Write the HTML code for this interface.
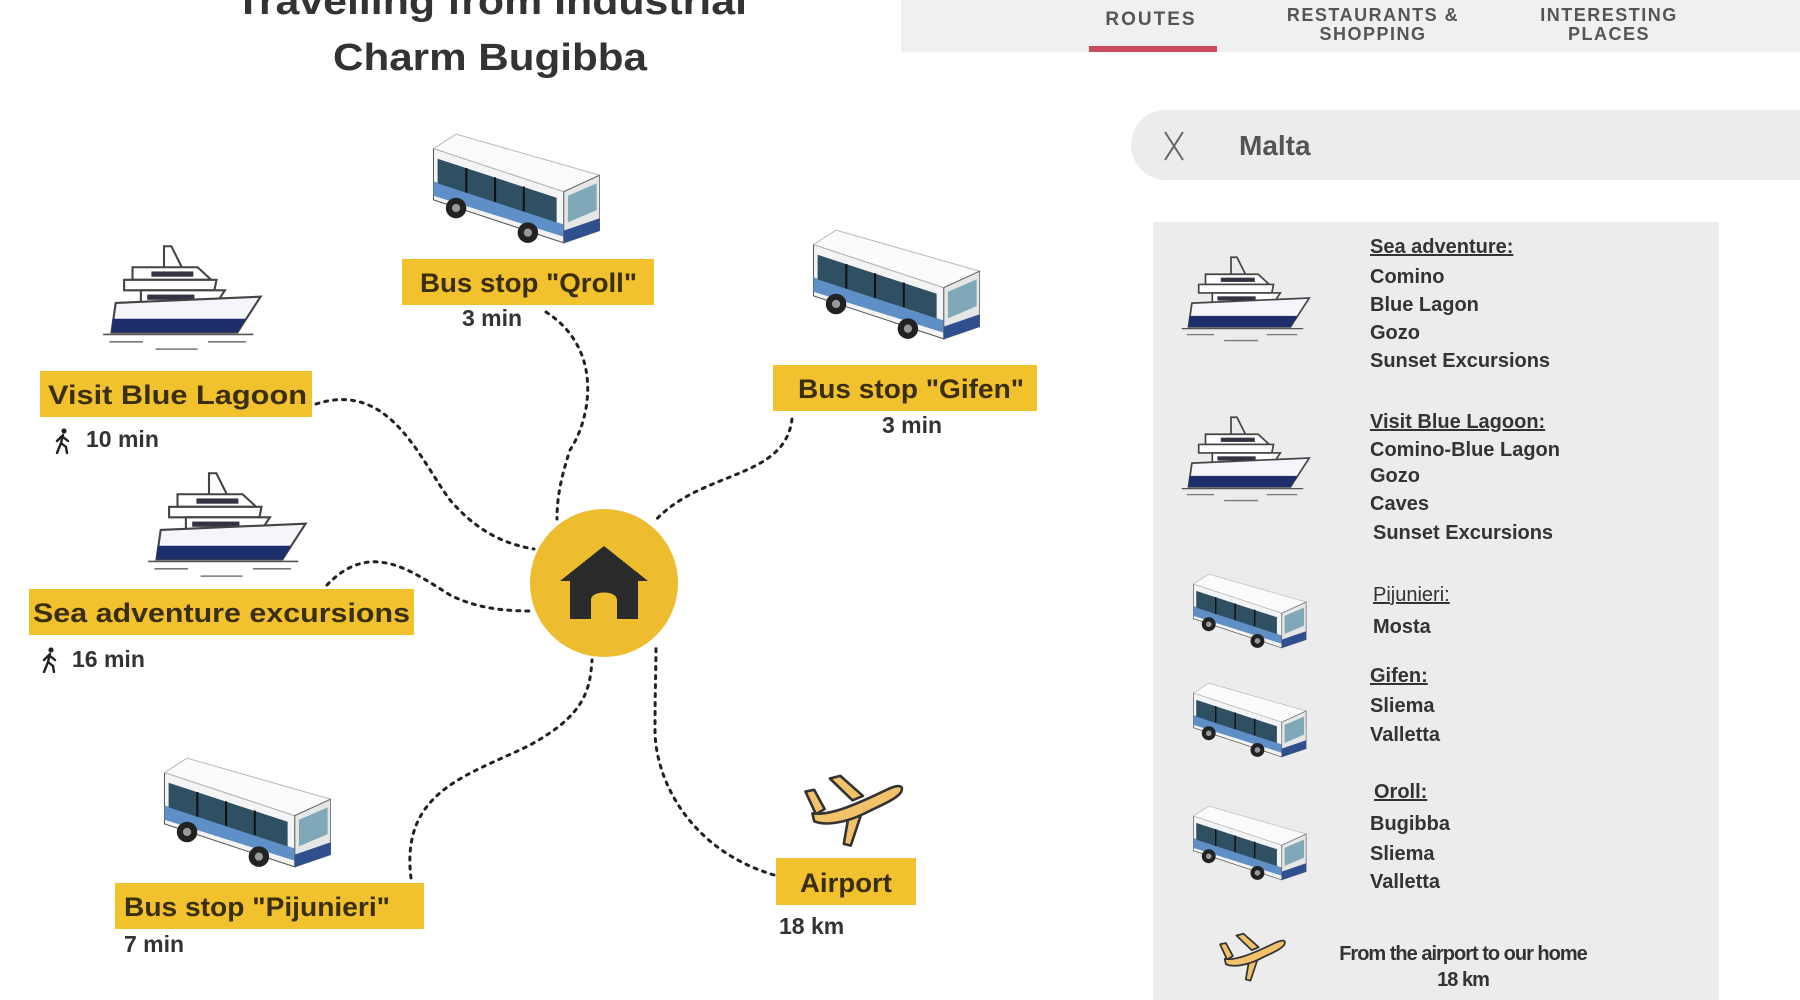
<!DOCTYPE html>
<html><head><meta charset="utf-8"><style>
html,body{margin:0;padding:0;background:#fff;width:1800px;height:1000px;overflow:hidden}
svg{display:block}
text{font-family:"Liberation Sans",sans-serif}
</style></head><body>
<svg width="1800" height="1000" viewBox="0 0 1800 1000" xmlns="http://www.w3.org/2000/svg">
<defs>
<symbol id="bus" viewBox="0 0 170 115">
 <polygon points="8,20 135,62 135,112 8,70" fill="#f4f4f4" stroke="#555" stroke-width="1"/>
 <polygon points="8,52 135,94 135,106 8,66" fill="#5e8fc6"/>
 <polygon points="12,30 128,68 128,92 12,54" fill="#2f4f63"/>
 <line x1="40" y1="39" x2="40" y2="63" stroke="#111" stroke-width="2"/>
 <line x1="68" y1="48" x2="68" y2="72" stroke="#111" stroke-width="2"/>
 <line x1="96" y1="57" x2="96" y2="81" stroke="#111" stroke-width="2"/>
 <polygon points="8,20 30,6 170,46 135,62" fill="#fbfbfb" stroke="#bbb" stroke-width="1"/>
 <polygon points="135,62 170,46 170,100 135,112" fill="#e6e6e6" stroke="#666" stroke-width="1"/>
 <polygon points="139,66 167,54 167,80 139,92" fill="#7fa8b8"/>
 <polygon points="135,100 170,88 170,100 135,112" fill="#2f4f8f"/>
 <circle cx="30" cy="78" r="10" fill="#222"/><circle cx="30" cy="78" r="4" fill="#999"/>
 <circle cx="100" cy="102" r="10" fill="#222"/><circle cx="100" cy="102" r="4" fill="#999"/>
</symbol>
<symbol id="ship" viewBox="0 0 200 130">
 <polyline points="80,52 80,20 87,20 97,40" fill="none" stroke="#444" stroke-width="2"/>
 <polygon points="50,40 112,40 125,52 50,52" fill="#fff" stroke="#444" stroke-width="2"/>
 <rect x="68" y="44" width="40" height="5" fill="#334" />
 <polygon points="42,52 130,52 128,62 42,62" fill="#fff" stroke="#444" stroke-width="2"/>
 <polygon points="58,62 138,62 130,74 58,74" fill="#fff" stroke="#444" stroke-width="2"/>
 <rect x="64" y="66" width="45" height="5" fill="#334"/>
 <polygon points="34,74 172,68 150,102 30,102" fill="#f4f6fb" stroke="#444" stroke-width="2"/>
 <polygon points="31,89 158,89 150,102 30,102" fill="#1d2f6a"/>
 <line x1="22" y1="104" x2="165" y2="104" stroke="#555" stroke-width="1.5"/>
 <line x1="28" y1="111" x2="60" y2="111" stroke="#777" stroke-width="1.5"/>
 <line x1="122" y1="111" x2="158" y2="111" stroke="#777" stroke-width="1.5"/>
 <line x1="72" y1="118" x2="112" y2="118" stroke="#777" stroke-width="1.5"/>
</symbol>
<symbol id="plane" viewBox="0 0 140 100">
 <g fill="#f2c26b" stroke="#333" stroke-width="3" stroke-linejoin="round">
  <polygon points="40,15 52,12 78,35 66,40"/>
  <polygon points="62,55 78,50 64,92 56,90"/>
  <polygon points="12,30 22,28 34,50 24,56"/>
  <path d="M20,55 C40,58 70,45 105,28 C118,22 125,22 122,30 C118,38 100,45 80,55 C60,65 35,70 22,64 Z"/>
 </g>
</symbol>
<symbol id="walk" viewBox="0 0 20 26">
 <circle cx="11" cy="3" r="2.6" fill="#222"/>
 <path d="M10,7 L8,15 L4,25 M8,15 L13,19 L14,25 M9,8 L4,13 M10,9 L15,13" stroke="#222" stroke-width="2.4" fill="none" stroke-linecap="round"/>
</symbol>
</defs>

<text x="491" y="14" text-anchor="middle" font-size="38" font-weight="bold" fill="#333" textLength="512" lengthAdjust="spacingAndGlyphs">Travelling from Industrial</text>
<text x="490" y="70" text-anchor="middle" font-size="38" font-weight="bold" fill="#333" textLength="314" lengthAdjust="spacingAndGlyphs">Charm Bugibba</text>

<rect x="901" y="0" width="899" height="52" fill="#f0f0f0"/>
<rect x="1089" y="46" width="128" height="6" fill="#cc4a5e"/>
<g font-weight="bold" fill="#555">
<text x="1151" y="25" text-anchor="middle" font-size="19" letter-spacing="2">ROUTES</text>
<text x="1373" y="21" text-anchor="middle" font-size="18" letter-spacing="1.5">RESTAURANTS &amp;</text>
<text x="1373" y="40" text-anchor="middle" font-size="18" letter-spacing="1.5">SHOPPING</text>
<text x="1609" y="21" text-anchor="middle" font-size="18" letter-spacing="1.5">INTERESTING</text>
<text x="1609" y="40" text-anchor="middle" font-size="18" letter-spacing="1.5">PLACES</text>
</g>

<rect x="1131" y="110" width="720" height="70" rx="35" fill="#ececec"/>
<path d="M1165,132 L1183,160 M1183,132 L1165,160" stroke="#666" stroke-width="2"/>
<text x="1239" y="155" font-size="28" font-weight="bold" fill="#555">Malta</text>

<rect x="1153" y="222" width="566" height="778" fill="#ececec"/>
<use href="#ship" x="1163" y="240" width="170" height="111"/>
<use href="#ship" x="1163" y="400" width="170" height="111"/>
<use href="#bus" x="1185" y="570" width="124" height="80"/>
<use href="#bus" x="1185" y="679" width="124" height="80"/>
<use href="#bus" x="1185" y="802" width="124" height="80"/>
<use href="#plane" x="1213" y="925" width="82" height="62"/>
<g font-size="20" fill="#333" font-weight="bold">
<text x="1370" y="253" text-decoration="underline">Sea adventure:</text>
<text x="1370" y="283">Comino</text>
<text x="1370" y="311">Blue Lagon</text>
<text x="1370" y="339">Gozo</text>
<text x="1370" y="367">Sunset Excursions</text>
<text x="1370" y="428" text-decoration="underline">Visit Blue Lagoon:</text>
<text x="1370" y="456">Comino-Blue Lagon</text>
<text x="1370" y="482">Gozo</text>
<text x="1370" y="510">Caves</text>
<text x="1373" y="539">Sunset Excursions</text>
<text x="1373" y="601" text-decoration="underline" font-family="Liberation Serif" font-weight="normal">Pijunieri:</text>
<text x="1373" y="633">Mosta</text>
<text x="1370" y="682" text-decoration="underline">Gifen:</text>
<text x="1370" y="712">Sliema</text>
<text x="1370" y="741">Valletta</text>
<text x="1374" y="798" text-decoration="underline">Oroll:</text>
<text x="1370" y="830">Bugibba</text>
<text x="1370" y="860">Sliema</text>
<text x="1370" y="888">Valletta</text>
<text x="1463" y="960" text-anchor="middle" letter-spacing="-1">From the airport to our home</text>
<text x="1463" y="986" text-anchor="middle" letter-spacing="-1">18 km</text>
</g>

<g fill="none" stroke="#222" stroke-width="3" stroke-dasharray="3 6" stroke-linecap="round">
<path d="M316,404 C390,380 420,460 450,500 C480,535 510,545 534,549"/>
<path d="M546,312 C605,350 590,420 570,450 C560,480 557,500 557,519"/>
<path d="M792,419 C785,480 700,470 654,522"/>
<path d="M327,585 C370,540 410,570 450,595 C480,610 510,611 534,611"/>
<path d="M411,878 C400,790 470,775 530,745 C585,715 590,690 592,660"/>
<path d="M774,875 C690,850 655,780 655,730 C655,690 656,670 656,643"/>
</g>

<circle cx="604" cy="583" r="74" fill="#edbd2f"/>
<path d="M604,546 L648,581 L638,581 L638,619 L617,619 L617,600 C617,590 591,590 591,600 L591,619 L570,619 L570,581 L560,581 Z" fill="#2b2b2b"/>

<use href="#bus" x="425" y="128" width="175" height="118"/>
<use href="#bus" x="805" y="224" width="175" height="118"/>
<use href="#bus" x="156" y="752" width="175" height="118"/>
<use href="#ship" x="80" y="225" width="210" height="137"/>
<use href="#ship" x="125" y="452" width="210" height="137"/>
<use href="#plane" x="795" y="765" width="122" height="88"/>

<g fill="#f1c22e">
<rect x="402" y="259" width="252" height="46"/>
<rect x="773" y="365" width="264" height="46"/>
<rect x="40" y="371" width="272" height="46"/>
<rect x="29" y="589" width="385" height="46"/>
<rect x="115" y="883" width="309" height="46"/>
<rect x="776" y="858" width="140" height="47"/>
</g>
<g font-size="27" font-weight="bold" fill="#3a2e10">
<text x="420" y="292" textLength="217" lengthAdjust="spacingAndGlyphs">Bus stop "Qroll"</text>
<text x="798" y="398" textLength="226" lengthAdjust="spacingAndGlyphs">Bus stop "Gifen"</text>
<text x="48" y="404" textLength="259" lengthAdjust="spacingAndGlyphs">Visit Blue Lagoon</text>
<text x="33" y="622" textLength="377" lengthAdjust="spacingAndGlyphs">Sea adventure excursions</text>
<text x="124" y="916" textLength="266" lengthAdjust="spacingAndGlyphs">Bus stop "Pijunieri"</text>
<text x="800" y="892" textLength="92" lengthAdjust="spacingAndGlyphs">Airport</text>
</g>
<g font-size="23" font-weight="bold" fill="#333">
<text x="492" y="326" text-anchor="middle">3 min</text>
<text x="912" y="433" text-anchor="middle">3 min</text>
<text x="86" y="447">10 min</text>
<text x="72" y="667">16 min</text>
<text x="124" y="952">7 min</text>
<text x="779" y="934">18 km</text>
</g>
<use href="#walk" x="53" y="428" width="20" height="26"/>
<use href="#walk" x="40" y="647" width="20" height="26"/>
</svg>
</body></html>
